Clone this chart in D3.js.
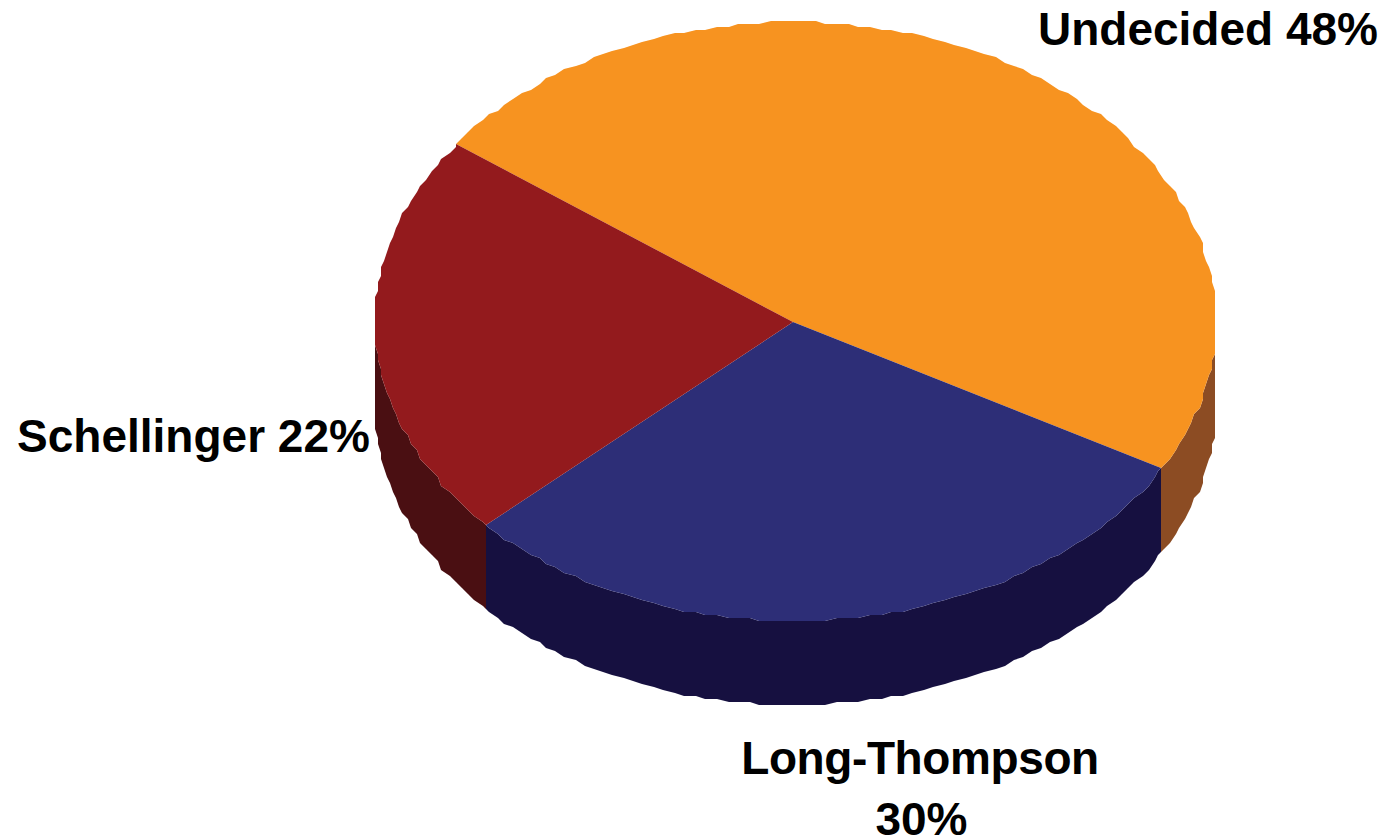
<!DOCTYPE html>
<html>
<head>
<meta charset="utf-8">
<script src="https://cdn.jsdelivr.net/npm/d3@7"></script>
<style>
html, body { margin: 0; padding: 0; background: #fff; overflow: hidden; }
text { font-family: "Liberation Sans", Arial, sans-serif; font-weight: bold; fill: #000; }
</style>
</head>
<body>
<svg id="chart"></svg>
<script>
var w = 1385, h = 840;

var names = ["Undecided", "Long-Thompson", "Schellinger"];
var values = [48, 30, 22];
var topColors = ["#f79320", "#2d2e77", "#931a1d"];
var sideColors = ["#8c4c23", "#161040", "#4a0f12"];

var depth = 84;
var startDeg = -53.4;
var stepDeg = 1.5;   // the outline is a coarse polygon, not a true ellipse
var snap = 3;

var svg = d3.select("#chart").attr("width", w).attr("height", h);

// unit circle to the tilted pie, hub sits a bit left of the middle
var x = d3.scaleLinear().domain([-1, 0, 1]).range([375, 793, 1216]);
var y = d3.scaleLinear().domain([-1, 0, 1]).range([22, 322, 621]);

var pie = d3.pie().sort(null)
	.startAngle(startDeg * Math.PI / 180)
	.endAngle((startDeg + 360) * Math.PI / 180);
var slices = pie(values);

function pt(a, dy) {
	return [
		Math.round(x(Math.sin(a)) / snap) * snap,
		Math.round(y(-Math.cos(a)) / snap) * snap + (dy || 0)
	];
}

// same angle grid for walls and tops so their edges line up
function arcPoints(a0, a1, dy) {
	var st = stepDeg * Math.PI / 180, pts = [pt(a0, dy)];
	var k = Math.floor(a0 / st) + 1;
	while (k * st < a1) {
		pts.push(pt(k * st, dy));
		k++;
	}
	pts.push(pt(a1, dy));
	return pts;
}

var line = d3.line();

var g = svg.append("g");

// walls first, only the front half of the rim shows
slices.forEach(function(d, i) {
	var lo = Math.max(d.startAngle, Math.PI / 2);
	var hi = Math.min(d.endAngle, Math.PI * 3 / 2);
	if (hi <= lo) return;
	var pts = arcPoints(lo, hi, 0).concat(arcPoints(lo, hi, depth).reverse());
	g.append("path").attr("d", line(pts) + "Z").style("fill", sideColors[i]);
});

slices.forEach(function(d, i) {
	var pts = [[x(0), y(0)]].concat(arcPoints(d.startAngle, d.endAngle, 0));
	g.append("path").attr("d", line(pts) + "Z").style("fill", topColors[i]);
});

var labels = svg.append("g").style("font-size", "46px");

labels.append("text").attr("x", 1208).attr("y", 45).attr("text-anchor", "middle")
	.text(names[0] + " " + values[0] + "%");
labels.append("text").attr("x", 193.5).attr("y", 452).attr("text-anchor", "middle")
	.text(names[2] + " " + values[2] + "%");
labels.append("text").attr("x", 920).attr("y", 774).attr("text-anchor", "middle")
	.style("letter-spacing", "-0.4px")
	.text(names[1]);
labels.append("text").attr("x", 921.5).attr("y", 835).attr("text-anchor", "middle")
	.text(values[1] + "%");
</script>
</body>
</html>
